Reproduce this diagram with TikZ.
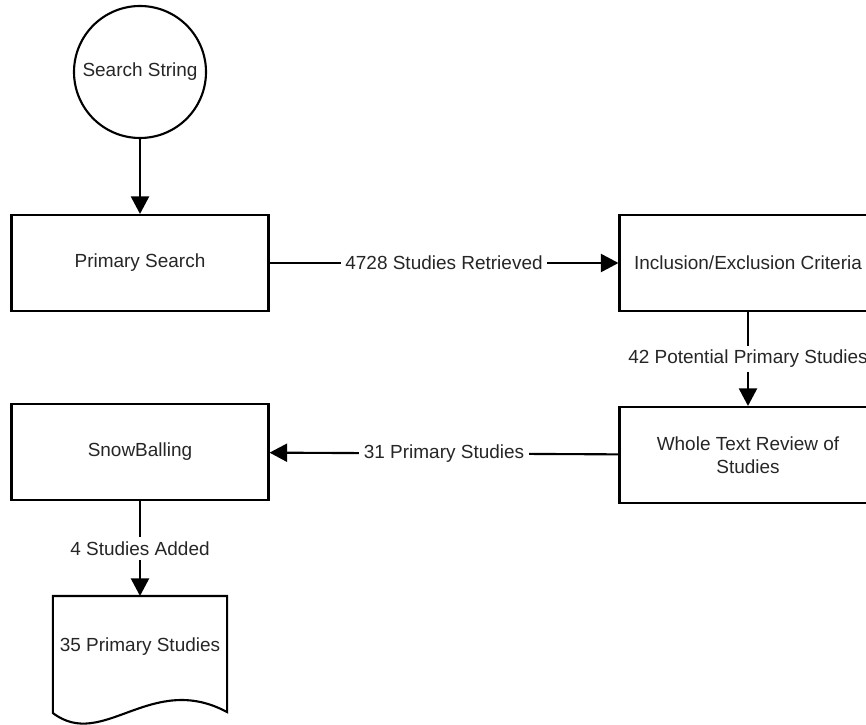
\documentclass[tikz,border=0pt]{standalone}
\usepackage{fontspec}
\setmainfont{Liberation Sans}
\usetikzlibrary{arrows.meta}

\begin{document}
\begin{tikzpicture}[mbox/.style={draw=black,rectangle,minimum width=5.14cm,minimum height=1.92cm,align=center},
  mcirc/.style={draw=black,circle,inner sep=0pt,minimum size=2.64cm},
  mdoc/.style={rectangle,minimum width=3.42cm,minimum height=2cm},
  mlabel/.style={fill=white,inner sep=2.5pt},
  very thick,>={Triangle[length=3.5mm,width=3.6mm]},
  font=\fontsize{10.8}{13}\selectfont,text=black!85]
  \useasboundingbox (0,0) rectangle (17.32,-14.5);
  \node[mcirc] (S) at (2.8,-1.44) {Search String};
  \node[mbox] (P) at (2.8,-5.26) {Primary Search};
  \node[mbox] (I) at (14.96,-5.26) {Inclusion/Exclusion Criteria};
  \node[mbox] (W) at (14.96,-9.1) {Whole Text Review of\\Studies};
  \node[mbox] (B) at (2.8,-9.04) {SnowBalling};
  \node[mdoc] (D) at (2.8,-12.94) {35 Primary Studies};
  % document outline with wavy bottom
  \draw (D.north west) -- (D.north east) -- ([yshift=-0.28cm]D.south east)
    .. controls +(-1.52,0.82) and +(1.0,-0.76) .. ([yshift=-0.3cm]D.south west) -- cycle;
  \begin{scope}[->]
    \draw (S) -- (P);
    \draw (P) -- node[mlabel] {4728 Studies Retrieved} (I);
    \draw (I) -- node[mlabel] {42 Potential Primary Studies} (W);
    \draw (W) -- node[mlabel] {31 Primary Studies} (B);
    \draw (B) -- node[mlabel] {4 Studies Added} (D);
  \end{scope}
\end{tikzpicture}
\end{document}
